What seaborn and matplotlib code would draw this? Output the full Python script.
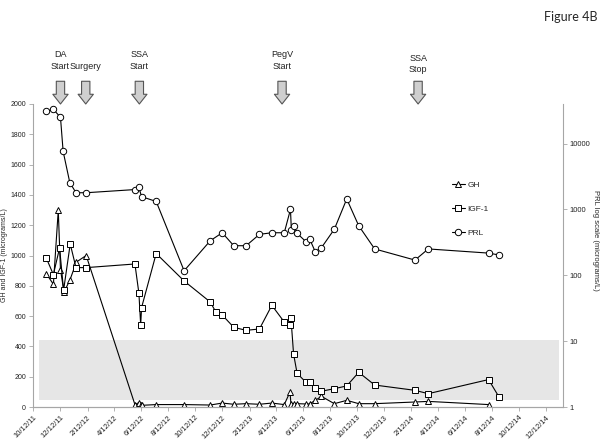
# Figure 4B: GH / IGF-1 (linear, left) and PRL (log, right) over treatment course

import matplotlib

matplotlib.use("Agg")

import matplotlib.dates as mdates
import matplotlib.pyplot as plt
import pandas as pd
import seaborn as sns
from matplotlib.ticker import NullLocator

gh_dates = [
    "2011-11-11", "2011-11-27", "2011-12-08", "2011-12-13", "2011-12-21", "2012-01-03",
    "2012-01-18", "2012-02-09", "2012-05-29", "2012-06-07", "2012-06-11", "2012-06-13",
    "2012-07-16", "2012-09-17", "2012-11-15", "2012-12-12", "2013-01-07", "2013-02-04",
    "2013-03-06", "2013-04-03", "2013-05-01", "2013-05-14", "2013-05-16", "2013-05-22",
    "2013-05-30", "2013-06-19", "2013-06-27", "2013-07-10", "2013-07-24", "2013-08-22",
    "2013-09-19", "2013-10-16", "2013-11-21", "2014-02-20", "2014-03-22", "2014-08-05",
]
gh_values = [
    880, 810, 1298, 907, 759, 836,
    957, 1000, 16, 29, 16, 11,
    16, 16, 13, 26, 18, 22,
    18, 26, 16, 99, 22, 22,
    22, 20, 20, 44, 70, 22,
    44, 22, 22, 33, 37, 16,
]

igf_dates = [
    "2011-11-11", "2011-11-27", "2011-12-11", "2011-12-20", "2012-01-04", "2012-01-17",
    "2012-02-09", "2012-05-29", "2012-06-07", "2012-06-11", "2012-06-13", "2012-07-16",
    "2012-09-17", "2012-11-15", "2012-11-28", "2012-12-12", "2013-01-07", "2013-02-04",
    "2013-03-06", "2013-04-03", "2013-05-01", "2013-05-14", "2013-05-16", "2013-05-22",
    "2013-05-30", "2013-06-19", "2013-06-27", "2013-07-10", "2013-07-24", "2013-08-22",
    "2013-09-19", "2013-10-16", "2013-11-21", "2014-02-20", "2014-03-22", "2014-08-05",
    "2014-08-29",
]
igf_values = [
    983, 874, 1050, 770, 1076, 920,
    920, 944, 750, 541, 656, 1013,
    832, 693, 625, 607, 526, 506,
    515, 671, 561, 541, 590, 350,
    222, 163, 165, 123, 104, 121,
    139, 229, 145, 110, 88, 181,
    64,
]

prl_dates = [
    "2011-11-11", "2011-11-27", "2011-12-13", "2011-12-19", "2012-01-03", "2012-01-17",
    "2012-02-09", "2012-05-29", "2012-06-07", "2012-06-13", "2012-07-16", "2012-09-17",
    "2012-11-15", "2012-12-12", "2013-01-07", "2013-02-04", "2013-03-06", "2013-04-03",
    "2013-05-01", "2013-05-15", "2013-05-17", "2013-05-23", "2013-05-30", "2013-06-19",
    "2013-06-27", "2013-07-10", "2013-07-24", "2013-08-22", "2013-09-19", "2013-10-16",
    "2013-11-21", "2014-02-20", "2014-03-22", "2014-08-05", "2014-08-29",
]
prl_values = [
    31000, 33000, 25000, 7600, 2560, 1790,
    1790, 2000, 2150, 1560, 1320, 117,
    334, 442, 281, 281, 418, 442,
    442, 1000, 488, 565, 433, 323,
    359, 227, 263, 500, 1440, 565,
    251, 170, 251, 217, 203,
]

event_dates = ["2011-12-13", "2012-02-08", "2012-06-08", "2013-04-26", "2014-02-27"]
event_labels = ["DA\nStart", "Surgery", "SSA\nStart", "PegV\nStart", "SSA\nStop"]

tick_labels = [
    "10/12/11", "12/12/11", "2/12/12", "4/12/12", "6/12/12", "8/12/12", "10/12/12",
    "12/12/12", "2/12/13", "4/12/13", "6/12/13", "8/12/13", "10/12/13", "12/12/13",
    "2/12/14", "4/12/14", "6/12/14", "8/12/14", "10/12/14", "12/12/14",
]
left_ticks = list(range(0, 2001, 200))
right_ticks = [1, 10, 100, 1000, 10000]

sns.set_style("white")
plt.rcParams["font.family"] = ["Liberation Sans", "DejaVu Sans"]

W, H = 604, 446
fig = plt.figure(figsize=(W / 100, H / 100), dpi=100)
ax = fig.add_axes([33 / W, 1 - 407 / H, 530 / W, 303 / H])
ax2 = ax.twinx()

# normal range band
ax.axhspan(45, 445, xmin=0.011, xmax=0.992, color="#e6e6e6", lw=0, zorder=0)

line_kw = dict(
    color="black",
    linewidth=0.8,
    markersize=4.6,
    markerfacecolor="white",
    markeredgecolor="black",
    markeredgewidth=0.7,
    sort=False,
)
sns.lineplot(x=pd.to_datetime(gh_dates), y=gh_values, marker="^", label="GH", ax=ax, **line_kw)
sns.lineplot(x=pd.to_datetime(igf_dates), y=igf_values, marker="s", label="IGF-1", ax=ax, **line_kw)
sns.lineplot(x=pd.to_datetime(prl_dates), y=prl_values, marker="o", label="PRL", ax=ax2, **line_kw)

ax.set_ylim(0, 2000)
ax.set_yticks(left_ticks)
ax2.set_yscale("log")
ax2.set_ylim(1, 10 ** 4.6)
ax2.set_yticks(right_ticks)
ax2.set_yticklabels([str(t) for t in right_ticks])
ax2.yaxis.set_minor_locator(NullLocator())

tick_dates = pd.to_datetime(tick_labels, format="%m/%d/%y")
ax.set_xlim(pd.Timestamp("2011-10-12"), pd.Timestamp("2015-01-20"))
ax.set_xticks(tick_dates)
ax.set_xticklabels(tick_labels, rotation=45, ha="right", rotation_mode="anchor")

spine_c = "#a6a6a6"
for a in (ax, ax2):
    a.spines["top"].set_visible(False)
    for s in ("left", "right", "bottom"):
        a.spines[s].set_color(spine_c)
        a.spines[s].set_linewidth(0.8)
    a.tick_params(length=3, width=0.6, color=spine_c, pad=2, labelcolor="#222222")
ax.spines["right"].set_visible(False)
ax2.spines["left"].set_visible(False)
ax.tick_params(axis="y", labelsize=5, left=True)
ax.tick_params(axis="x", labelsize=5.5, bottom=True)
ax2.tick_params(axis="y", labelsize=5.5, right=True)

ax.set_xlabel("")
ax.set_ylabel("GH and IGF-1 (micrograms/L)", fontsize=5)
ax.yaxis.set_label_coords(-0.047, 0.5)
ax2.set_ylabel("PRL log scale (micrograms/L)", fontsize=5.5, rotation=270, va="bottom")
ax2.yaxis.set_label_coords(1.055, 0.55)

# legend, stacked with wide spacing
handles, labels = ax.get_legend_handles_labels()
h2, l2 = ax2.get_legend_handles_labels()
ax.get_legend().remove()
ax2.get_legend().remove()
fig.legend(
    handles + h2,
    labels + l2,
    loc="upper left",
    bbox_to_anchor=(444 / W, 1 - 174 / H),
    frameon=False,
    fontsize=6,
    labelspacing=1.9,
    handlelength=1.6,
    handletextpad=0.3,
)

# treatment event arrows
xtrans = ax.get_xaxis_transform()
for d, lab in zip(event_dates, event_labels):
    xd = mdates.date2num(pd.Timestamp(d))
    drop = 0.012 if lab == "SSA\nStop" else 0.0
    ax.annotate(
        "",
        xy=(xd, 1.0),
        xytext=(xd, 1.075),
        xycoords=xtrans,
        textcoords=xtrans,
        annotation_clip=False,
        arrowprops=dict(
            arrowstyle="simple,head_length=0.7,head_width=1.1,tail_width=0.6",
            mutation_scale=10,
            fc="#cfcfcf",
            ec="#555555",
            lw=0.8,
            shrinkA=0,
            shrinkB=0,
        ),
    )
    ax.text(xd, 1.11 - drop, lab, transform=xtrans, ha="center", va="bottom",
            fontsize=6.5, linespacing=1.35, color="#222222")

fig.text(0.99, 0.975, "Figure 4B", ha="right", va="top", fontsize=9,
         family=["Lato", "DejaVu Sans"])

fig.savefig("out.png", dpi=100)
